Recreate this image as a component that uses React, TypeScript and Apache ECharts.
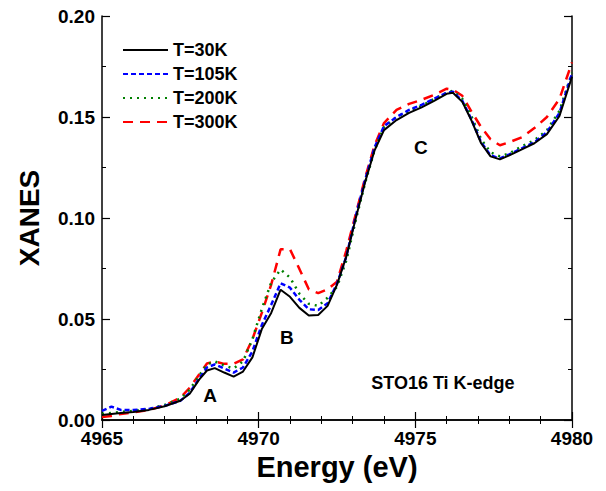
import React, { useEffect, useRef } from "react";
import * as echarts from "echarts";

const energy = [
  4965, 4965.3, 4965.6, 4966, 4966.5, 4967, 4967.5, 4967.8, 4968.1, 4968.35,
  4968.6, 4968.9, 4969.2, 4969.5, 4969.8, 4970.1, 4970.4, 4970.7, 4971.0, 4971.3,
  4971.6, 4971.9, 4972.2, 4972.5, 4972.8, 4973.1, 4973.4, 4973.7, 4974.0, 4974.4,
  4974.8, 4975.2, 4975.6, 4976.0, 4976.2, 4976.5, 4976.8, 4977.1, 4977.4, 4977.7,
  4978.0, 4978.4, 4978.8, 4979.2, 4979.6, 4980,
];

const t30K = [
  0.0025, 0.003, 0.0035, 0.004, 0.005, 0.0068, 0.0095, 0.013, 0.02, 0.0245,
  0.0257, 0.0235, 0.0215, 0.024, 0.031, 0.045, 0.053, 0.0645, 0.061, 0.0555,
  0.0517, 0.052, 0.0565, 0.067, 0.081, 0.1, 0.118, 0.1335, 0.1435, 0.1485,
  0.152, 0.1548, 0.158, 0.1615, 0.162, 0.1575, 0.148, 0.137, 0.1305, 0.129,
  0.131, 0.134, 0.137, 0.1415, 0.1505, 0.17,
];

const t105K = [
  0.0045, 0.0066, 0.005, 0.005, 0.0055, 0.007, 0.0095, 0.0135, 0.0205, 0.026,
  0.0275, 0.0255, 0.0235, 0.026, 0.034, 0.047, 0.057, 0.0677, 0.0655, 0.0595,
  0.0548, 0.0545, 0.0578, 0.0675, 0.081, 0.101, 0.119, 0.135, 0.1455, 0.15,
  0.1535, 0.156, 0.159, 0.162, 0.1625, 0.158, 0.1485, 0.1375, 0.131, 0.1295,
  0.1315, 0.1345, 0.1375, 0.1425, 0.152, 0.1715,
];

const t200K = [
  0.003, 0.0035, 0.004, 0.0045, 0.0055, 0.0075, 0.0105, 0.015, 0.022, 0.0275,
  0.029, 0.027, 0.0255, 0.029, 0.04, 0.055, 0.068, 0.0745, 0.0705, 0.0625,
  0.0575, 0.0565, 0.0605, 0.066, 0.079, 0.099, 0.1175, 0.1335, 0.145, 0.15,
  0.153, 0.1555, 0.159, 0.162, 0.163, 0.159, 0.15, 0.139, 0.1325, 0.1305,
  0.132, 0.1355, 0.1385, 0.1435, 0.153, 0.172,
];

const t300K = [
  0.0015, 0.002, 0.003, 0.0038, 0.005, 0.0072, 0.011, 0.016, 0.0225, 0.028,
  0.029, 0.0278, 0.0278, 0.03, 0.04, 0.053, 0.067, 0.0845, 0.0845, 0.0748,
  0.0647, 0.0628, 0.0647, 0.0685, 0.084, 0.102, 0.12, 0.136, 0.147, 0.1535,
  0.1565, 0.1585, 0.161, 0.164, 0.1635, 0.1605, 0.1525, 0.145, 0.139, 0.136,
  0.1375, 0.14, 0.1445, 0.15, 0.159, 0.177,
];

const seriesNames = ["T=30K", "T=105K", "T=200K", "T=300K"];
const seriesValues = [t30K, t105K, t200K, t300K];
const seriesColors = ["#000000", "#0000ff", "#008000", "#ff0000"];
const seriesDash: any[] = ["solid", [5, 3], [2, 5], [10, 7]];

const xTitle = "Energy (eV)";
const yTitle = "XANES";
const sampleLabel = "STO16 Ti K-edge";
const peakLabels = [
  { text: "A", x: 4968.45, y: 0.012 },
  { text: "B", x: 4970.9, y: 0.0406 },
  { text: "C", x: 4975.18, y: 0.135 },
];
const samplePos = [4975.88, 0.0183];

const FONT = "'Liberation Sans', Arial, sans-serif";

export default function App() {
  const ref = useRef<HTMLDivElement>(null);
  useEffect(() => {
    if (!ref.current) return;
    const chart = echarts.init(ref.current, null, { renderer: "svg" });
    const axisLine = { show: true, lineStyle: { color: "#000", width: 1.5 } };
    const tick = { show: true, inside: true, length: 8, lineStyle: { color: "#000", width: 1.2 } };
    const minorTick = { show: true, length: 4, lineStyle: { color: "#000", width: 1 } };
    const textLabel = (size: number) => ({
      show: true,
      position: "inside",
      formatter: (p: any) => p.name,
      fontFamily: FONT,
      fontWeight: "bold",
      fontSize: size,
      color: "#000",
      opacity: 1,
    });
    const option: any = {
      animation: false,
      backgroundColor: "#fff",
      grid: { left: 102, right: 34, top: 16, bottom: 71, containLabel: false },
      legend: {
        orient: "vertical",
        left: 122,
        top: 41,
        padding: 0,
        itemWidth: 45,
        itemHeight: 14,
        itemGap: 6,
        itemStyle: { opacity: 0 },
        textStyle: { fontFamily: FONT, fontWeight: "bold", fontSize: 18, color: "#000" },
        data: seriesNames,
      },
      xAxis: [
        {
          type: "value",
          min: 4965,
          max: 4980,
          interval: 5,
          name: xTitle,
          nameLocation: "middle",
          nameGap: 26,
          nameTextStyle: { fontFamily: FONT, fontWeight: "bold", fontSize: 29, color: "#000" },
          axisLine,
          axisTick: tick,
          minorTick: { ...minorTick, splitNumber: 5 },
          splitLine: { show: false },
          axisLabel: {
            fontFamily: FONT,
            fontWeight: "bold",
            fontSize: 19,
            color: "#000",
            margin: 9,
            formatter: (v: number) => String(v),
          },
        },
        {
          type: "value",
          position: "top",
          min: 4965,
          max: 4980,
          interval: 5,
          axisLine,
          axisTick: tick,
          minorTick: { ...minorTick, splitNumber: 5 },
          splitLine: { show: false },
          axisLabel: { show: false },
        },
      ],
      yAxis: [
        {
          type: "value",
          min: 0,
          max: 0.2,
          interval: 0.05,
          name: yTitle,
          nameLocation: "middle",
          nameGap: 59,
          nameRotate: 90,
          nameTextStyle: { fontFamily: FONT, fontWeight: "bold", fontSize: 28, color: "#000" },
          axisLine,
          axisTick: tick,
          minorTick: { ...minorTick, splitNumber: 2 },
          splitLine: { show: false },
          axisLabel: {
            fontFamily: FONT,
            fontWeight: "bold",
            fontSize: 19,
            color: "#000",
            margin: 7,
            formatter: (v: number) => v.toFixed(2),
          },
        },
        {
          type: "value",
          position: "right",
          min: 0,
          max: 0.2,
          interval: 0.05,
          axisLine,
          axisTick: tick,
          minorTick: { ...minorTick, splitNumber: 2 },
          splitLine: { show: false },
          axisLabel: { show: false },
        },
      ],
      series: [
        ...seriesNames.map((name, i) => ({
          name,
          type: "line",
          xAxisIndex: 0,
          yAxisIndex: 0,
          showSymbol: false,
          symbol: "none",
          smooth: false,
          z: 10 - i,
          color: seriesColors[i],
          lineStyle: { color: seriesColors[i], width: i === 0 ? 2 : 2.5, type: seriesDash[i] },
          data: energy.map((e, k) => [e, seriesValues[i][k]]),
        })),
        {
          name: "labels",
          type: "scatter",
          xAxisIndex: 0,
          yAxisIndex: 0,
          symbolSize: 0,
          silent: true,
          itemStyle: { opacity: 1, color: "#000" },
          data: peakLabels.map((p) => ({ value: [p.x, p.y], name: p.text })),
          label: textLabel(19),
        },
        {
          name: "sample",
          type: "scatter",
          xAxisIndex: 0,
          yAxisIndex: 0,
          symbolSize: 0,
          silent: true,
          itemStyle: { opacity: 1, color: "#000" },
          data: [{ value: samplePos, name: sampleLabel }],
          label: textLabel(18),
        },
      ],
    };
    chart.setOption(option);
    return () => chart.dispose();
  }, []);
  return <div ref={ref} style={{ width: 606, height: 491, position: "absolute", left: 0, top: 0 }} />;
}
